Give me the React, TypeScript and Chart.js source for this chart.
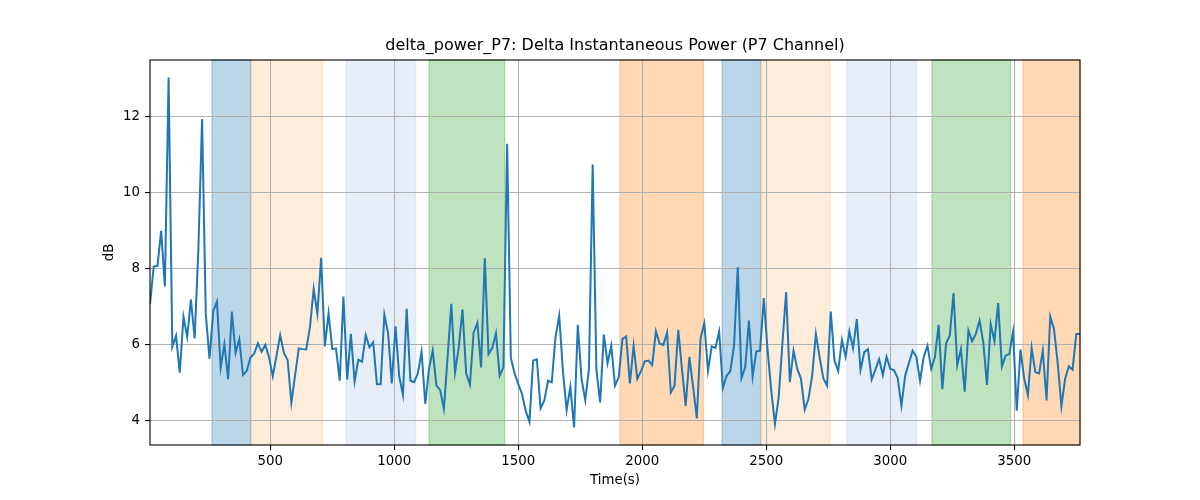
import React, { useEffect, useRef } from "react";
import { Chart, registerables } from "chart.js";

Chart.register(...registerables);

const TITLE = "delta_power_P7: Delta Instantaneous Power (P7 Channel)";
const X_LABEL = "Time(s)";
const Y_LABEL = "dB";

const T_START = 15;
const T_STEP = 15;

const POWER_DB: number[] = [
  7.07, 8.06, 8.08, 9.0, 7.54, 13.03, 5.95, 6.24, 5.27, 6.74, 6.21, 7.19, 6.17, 8.5, 11.94, 6.81, 5.64, 6.89, 7.14, 5.4,
  6.02, 5.1, 6.88, 5.79, 6.15, 5.21, 5.32, 5.67, 5.77, 6.04, 5.82, 6.0, 5.67, 5.18, 5.71, 6.26, 5.79, 5.6, 4.48, 5.2,
  5.91, 5.89, 5.88,
  6.46, 7.47, 6.82, 8.29, 5.96, 6.83, 5.89, 5.91, 5.06, 7.27, 5.09, 6.29, 5.04, 5.61, 5.56, 6.26, 5.94, 6.07, 4.97, 4.97,
  6.8, 6.31, 4.99, 6.49, 5.17, 4.69, 6.95, 5.06, 5.02, 5.25, 5.82, 4.45, 5.37, 5.85, 4.93, 4.82, 4.32, 5.68,
  7.08, 5.28, 5.94, 6.93, 5.25, 4.96, 6.33, 6.58, 5.41, 8.28, 5.76, 5.92, 6.31, 5.19, 5.41, 11.29, 5.66, 5.26, 4.97, 4.71,
  4.27, 3.98, 5.59, 5.62, 4.33, 4.54, 5.06, 5.02, 6.2, 6.77, 5.32, 4.29, 4.9, 3.83, 6.53, 5.11, 4.55, 5.37, 10.74, 5.35,
  4.49, 6.27, 5.52,
  5.98, 4.93, 5.15, 6.16, 6.22, 4.99, 5.98, 5.11, 5.32, 5.57, 5.59, 5.47, 6.36, 6.03, 6.0, 6.33, 4.75, 4.93, 6.4, 5.37,
  4.4, 5.68, 4.89, 4.07, 6.18, 6.57, 5.32, 5.96, 5.92, 6.35, 4.87, 5.19, 5.31, 5.98, 8.04, 5.13, 5.41, 6.64, 5.17, 5.83,
  5.85, 7.23,
  5.89, 4.8, 3.92, 4.62, 6.03, 7.39, 5.02, 5.85, 5.37, 5.11, 4.3, 4.58, 5.19, 6.29, 5.68, 5.12, 4.93, 6.88, 5.59, 5.31,
  6.13, 5.69, 6.36, 5.91, 6.68, 5.34, 5.81, 5.89, 5.09, 5.35, 5.63, 5.21, 5.69, 5.37, 5.34, 5.13, 4.4, 5.19, 5.52, 5.85,
  5.69, 5.06,
  5.69, 5.98, 5.37, 5.68, 6.53, 4.84, 6.04, 6.25, 7.36, 5.47, 5.89, 4.77, 6.38, 6.1, 6.29, 6.64, 6.07, 4.95, 6.54, 6.1,
  7.1, 5.43, 5.72, 5.76, 6.35, 4.27, 5.88, 5.11, 4.68, 5.92, 5.28, 5.25, 5.85, 4.54, 6.75, 6.42, 5.53, 4.39, 5.11, 5.44,
  5.35, 6.29, 6.29,
];

const TIMES: number[] = POWER_DB.map((_, i) => T_START + i * T_STEP);

const SPAN_STARTS = [265, 421, 806, 1140, 1910, 2322, 2480, 2825, 3168, 3535];
const SPAN_ENDS = [421, 711, 1086, 1445, 2247, 2477, 2757, 3106, 3485, 3765];
const SPAN_COLORS = [
  "rgba(31,119,180,0.3)",
  "rgba(255,127,14,0.15)",
  "rgba(174,199,232,0.3)",
  "rgba(44,160,44,0.3)",
  "rgba(255,127,14,0.3)",
  "rgba(31,119,180,0.3)",
  "rgba(255,127,14,0.15)",
  "rgba(174,199,232,0.3)",
  "rgba(44,160,44,0.3)",
  "rgba(255,127,14,0.3)",
];

const X_TICKS = [500, 1000, 1500, 2000, 2500, 3000, 3500];
const Y_TICKS = [4, 6, 8, 10, 12];

const FONT = "'DejaVu Sans', sans-serif";

export default function App() {
  const ref = useRef<HTMLCanvasElement | null>(null);

  useEffect(() => {
    document.body.style.margin = "0";
    const canvas = ref.current;
    if (!canvas) return;

    const yMinData = Math.min(...POWER_DB);
    const yMaxData = Math.max(...POWER_DB);
    const yPad = (yMaxData - yMinData) * 0.05;

    const spanPlugin = {
      id: "spans",
      beforeDraw(chart: any) {
        const { ctx, chartArea, scales } = chart;
        const xs = scales.x;
        ctx.save();
        for (let i = 0; i < SPAN_STARTS.length; i++) {
          const x1 = Math.max(xs.getPixelForValue(SPAN_STARTS[i]), chartArea.left);
          const x2 = Math.min(xs.getPixelForValue(SPAN_ENDS[i]), chartArea.right);
          ctx.fillStyle = SPAN_COLORS[i];
          ctx.fillRect(x1, chartArea.top, x2 - x1, chartArea.bottom - chartArea.top);
          ctx.strokeStyle = SPAN_COLORS[i];
          ctx.lineWidth = 1.3;
          ctx.strokeRect(x1, chartArea.top, x2 - x1, chartArea.bottom - chartArea.top);
        }
        ctx.restore();
      },
      afterDraw(chart: any) {
        const { ctx, chartArea } = chart;
        ctx.save();
        ctx.strokeStyle = "#000";
        ctx.lineWidth = 1.1;
        ctx.strokeRect(chartArea.left, chartArea.top, chartArea.right - chartArea.left, chartArea.bottom - chartArea.top);
        ctx.fillStyle = "#000";
        ctx.textAlign = "center";
        ctx.textBaseline = "middle";
        ctx.font = `16px ${FONT}`;
        ctx.fillText(TITLE, (chartArea.left + chartArea.right) / 2, 46);
        ctx.font = `13.33px ${FONT}`;
        ctx.fillText(X_LABEL, (chartArea.left + chartArea.right) / 2, 481);
        ctx.translate(110, (chartArea.top + chartArea.bottom) / 2);
        ctx.rotate(-Math.PI / 2);
        ctx.fillText(Y_LABEL, 0, 0);
        ctx.restore();
      },
    };

    const chart = new Chart(canvas, {
      type: "line",
      data: {
        datasets: [
          {
            data: TIMES.map((t, i) => ({ x: t, y: POWER_DB[i] })),
            borderColor: "#1f77b4",
            borderWidth: 2,
            pointRadius: 0,
            tension: 0,
            fill: false,
          },
        ],
      },
      options: {
        animation: false,
        responsive: false,
        devicePixelRatio: 1,
        layout: { padding: { top: 60, right: 120, left: 0, bottom: 0 } },
        plugins: { legend: { display: false }, tooltip: { enabled: false }, title: { display: false } },
        scales: {
          x: {
            type: "linear",
            min: TIMES[0],
            max: TIMES[TIMES.length - 1],
            afterBuildTicks: (s: any) => {
              s.ticks = X_TICKS.map((v) => ({ value: v }));
            },
            afterFit: (s: any) => {
              s.height = 55;
            },
            grid: { color: "#b0b0b0", lineWidth: 1.07, tickColor: "#000", tickLength: 5, drawOnChartArea: true },
            border: { display: false },
            ticks: {
              color: "#000",
              font: { family: FONT, size: 13.33 },
              padding: 4,
              maxRotation: 0,
              autoSkip: false,
              callback: (v: any) => String(v),
            },
          },
          y: {
            type: "linear",
            min: yMinData - yPad,
            max: yMaxData + yPad,
            afterBuildTicks: (s: any) => {
              s.ticks = Y_TICKS.map((v) => ({ value: v }));
            },
            afterFit: (s: any) => {
              s.width = 150;
            },
            grid: { color: "#b0b0b0", lineWidth: 1.07, tickColor: "#000", tickLength: 5 },
            border: { display: false },
            ticks: {
              color: "#000",
              font: { family: FONT, size: 13.33 },
              padding: 5,
              autoSkip: false,
              callback: (v: any) => String(v),
            },
          },
        },
      },
      plugins: [spanPlugin],
    } as any);

    return () => chart.destroy();
  }, []);

  return (
    <div style={{ width: 1200, height: 500 }}>
      <canvas ref={ref} width={1200} height={500} style={{ width: 1200, height: 500, display: "block" }} />
    </div>
  );
}
